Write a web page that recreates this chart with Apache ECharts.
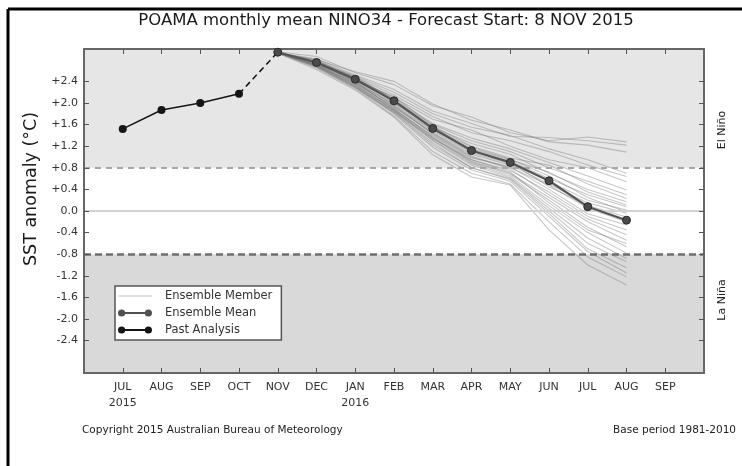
<!DOCTYPE html>
<html>
<head>
<meta charset="utf-8">
<script src="https://cdn.jsdelivr.net/npm/echarts@6/dist/echarts.min.js"></script>
<style>
html,body{margin:0;padding:0;background:#fff;}
#chart{width:742px;height:466px;}
</style>
</head>
<body>
<div id="chart"></div>
<script>
// ---- data ----
const months = ['2015-07','2015-08','2015-09','2015-10','2015-11','2015-12','2016-01','2016-02','2016-03','2016-04','2016-05','2016-06','2016-07','2016-08','2016-09'];
const monthTickLabels = ['JUL\n2015','AUG','SEP','OCT','NOV','DEC','JAN\n2016','FEB','MAR','APR','MAY','JUN','JUL','AUG','SEP'];
const yTickValues = [-2.4,-2.0,-1.6,-1.2,-0.8,-0.4,0.0,0.4,0.8,1.2,1.6,2.0,2.4];
const pastMonths = ['2015-07','2015-08','2015-09','2015-10'];
const pastValues = [1.52, 1.87, 2.00, 2.17];
const forecastMonths = ['2015-11','2015-12','2016-01','2016-02','2016-03','2016-04','2016-05','2016-06','2016-07','2016-08'];
const meanValues = [2.94, 2.75, 2.44, 2.04, 1.53, 1.12, 0.90, 0.56, 0.08, -0.17];
const ensembleMembers = [
  [2.95, 2.86, 2.56, 2.34, 1.95, 1.74, 1.45, 1.30, 1.37, 1.28],
  [2.93, 2.82, 2.52, 2.25, 1.85, 1.62, 1.38, 1.36, 1.30, 1.22],
  [2.92, 2.80, 2.58, 2.40, 1.98, 1.68, 1.50, 1.28, 1.22, 1.09],
  [2.94, 2.78, 2.50, 2.20, 1.80, 1.55, 1.40, 1.15, 0.95, 0.70],
  [2.93, 2.76, 2.48, 2.15, 1.75, 1.45, 1.30, 1.10, 0.85, 0.64],
  [2.92, 2.80, 2.45, 2.10, 1.70, 1.50, 1.20, 0.95, 0.80, 0.54],
  [2.93, 2.75, 2.46, 2.08, 1.62, 1.35, 1.15, 0.90, 0.65, 0.39],
  [2.94, 2.72, 2.42, 2.05, 1.60, 1.30, 1.10, 0.80, 0.55, 0.30],
  [2.92, 2.78, 2.40, 2.12, 1.58, 1.20, 0.98, 0.85, 0.50, 0.23],
  [2.93, 2.74, 2.44, 2.00, 1.55, 1.25, 1.05, 0.70, 0.40, 0.17],
  [2.93, 2.70, 2.38, 1.98, 1.50, 1.15, 0.95, 0.72, 0.35, 0.11],
  [2.92, 2.76, 2.47, 2.02, 1.52, 1.10, 0.92, 0.60, 0.30, 0.08],
  [2.94, 2.73, 2.41, 1.95, 1.48, 1.08, 0.88, 0.55, 0.20, 0.02],
  [2.93, 2.71, 2.36, 1.92, 1.45, 1.05, 0.85, 0.50, 0.15, -0.04],
  [2.92, 2.77, 2.49, 2.06, 1.56, 1.12, 0.90, 0.45, 0.10, -0.11],
  [2.93, 2.72, 2.43, 1.96, 1.42, 1.00, 0.80, 0.48, 0.05, -0.20],
  [2.94, 2.69, 2.34, 1.88, 1.40, 0.98, 0.82, 0.40, -0.05, -0.26],
  [2.93, 2.74, 2.39, 1.90, 1.38, 0.95, 0.75, 0.35, -0.10, -0.35],
  [2.92, 2.70, 2.37, 1.93, 1.44, 1.02, 0.78, 0.30, -0.15, -0.44],
  [2.93, 2.68, 2.32, 1.85, 1.35, 0.92, 0.70, 0.25, -0.20, -0.54],
  [2.94, 2.73, 2.40, 1.89, 1.36, 0.90, 0.68, 0.20, -0.30, -0.66],
  [2.93, 2.67, 2.30, 1.84, 1.32, 0.88, 0.65, 0.10, -0.40, -0.78],
  [2.92, 2.71, 2.35, 1.86, 1.30, 0.85, 0.62, 0.05, -0.50, -0.88],
  [2.93, 2.66, 2.28, 1.82, 1.22, 0.80, 0.60, 0.00, -0.60, -0.94],
  [2.94, 2.69, 2.31, 1.80, 1.18, 0.76, 0.55, -0.10, -0.75, -1.15],
  [2.93, 2.65, 2.27, 1.76, 1.10, 0.70, 0.50, -0.20, -0.85, -1.22],
  [2.92, 2.62, 2.24, 1.74, 1.04, 0.63, 0.48, -0.35, -1.00, -1.37],
  [2.93, 2.70, 2.33, 1.87, 1.34, 0.95, 0.72, 0.15, -0.35, -0.60],
  [2.94, 2.75, 2.45, 2.03, 1.54, 1.18, 0.96, 0.65, 0.25, -0.02],
  [2.93, 2.68, 2.29, 1.83, 1.26, 0.80, 0.58, -0.05, -0.70, -1.05]
];
const elNinoThreshold = 0.8;
const laNinaThreshold = -0.8;

// ---- helpers ----
const xPos = m => months.indexOf(m) + 1;
const pairs = (ms, vs) => ms.map((m, i) => [xPos(m), vs[i]]);
const FONT = 'DejaVu Sans';

const memberSeries = ensembleMembers.map(vals => ({
  name: 'Ensemble Member',
  type: 'line',
  data: pairs(forecastMonths, vals),
  symbol: 'none',
  silent: true,
  z: 2,
  lineStyle: { color: '#7a7a7a', width: 1.1, opacity: 0.42 },
  itemStyle: { color: '#bdbdbd' },
  emphasis: { disabled: true }
}));

const iconLine = 'path://M0,0M34,8M0,3.5h34v1h-34z';
const iconDots = 'path://M0,4A3.6,3.6 0 1 1 7.2,4A3.6,3.6 0 1 1 0,4ZM26.8,4A3.6,3.6 0 1 1 34,4A3.6,3.6 0 1 1 26.8,4ZM3.6,3.1H30.4V4.9H3.6Z';

const option = {
  animation: false,
  backgroundColor: '#fff',
  title: {
    text: 'POAMA monthly mean NINO34 - Forecast Start: 8 NOV 2015',
    left: 386, top: 12, padding: 0, textAlign: 'center',
    textStyle: { fontFamily: FONT, fontSize: 16.5, fontWeight: 'normal', color: '#1a1a1a' }
  },
  grid: { left: 84, top: 49, width: 620, height: 324, show: true, backgroundColor: '#fff', borderWidth: 0 },
  legend: {
    orient: 'vertical', left: 115, top: 286,
    padding: [4, 9, 4, 3], itemGap: 5, itemWidth: 34, itemHeight: 8,
    backgroundColor: '#fff', borderColor: '#555', borderWidth: 1.5,
    textStyle: { fontFamily: FONT, fontSize: 11.5, color: '#333', padding: [0, 0, 0, 8] },
    selectedMode: false,
    data: [
      { name: 'Ensemble Member', icon: iconLine, itemStyle: { color: '#c4c4c4', borderWidth: 0 } },
      { name: 'Ensemble Mean', icon: iconDots, itemStyle: { color: '#505050', borderWidth: 0 } },
      { name: 'Past Analysis', icon: iconDots, itemStyle: { color: '#151515', borderWidth: 0 } }
    ]
  },
  xAxis: [{
    type: 'value', min: 0, max: 16, position: 'bottom', z: 5,
    splitLine: { show: false },
    axisLine: { show: true, onZero: false, lineStyle: { color: '#666', width: 2 } },
    axisTick: { show: true, inside: true, length: 5, lineStyle: { color: '#555', width: 1 }, customValues: months.map(m => xPos(m)) },
    axisLabel: {
      customValues: months.map(m => xPos(m)),
      formatter: v => monthTickLabels[Math.round(v) - 1] || '',
      fontFamily: FONT, fontSize: 11, color: '#333', margin: 6, lineHeight: 16
    }
  }, {
    type: 'value', min: 0, max: 16, position: 'top', z: 5,
    splitLine: { show: false },
    axisLine: { show: true, onZero: false, lineStyle: { color: '#666', width: 2 } },
    axisTick: { show: true, inside: true, length: 5, lineStyle: { color: '#555', width: 1 }, customValues: months.map(m => xPos(m)) },
    axisLabel: { show: false }
  }],
  yAxis: [{
    type: 'value', min: -3, max: 3, position: 'left', z: 5,
    name: 'SST anomaly (°C)', nameLocation: 'middle', nameGap: 42,
    nameTextStyle: { fontFamily: FONT, fontSize: 17.5, color: '#1a1a1a', padding: [0, 0, 0, 44] },
    splitLine: { show: false },
    axisLine: { show: true, onZero: false, lineStyle: { color: '#666', width: 2 } },
    axisTick: { show: true, inside: true, length: 5, lineStyle: { color: '#555', width: 1 }, customValues: yTickValues },
    axisLabel: {
      customValues: yTickValues,
      formatter: v => (v > 0.001 ? '+' : '') + (Math.abs(v) < 0.001 ? '0.0' : v.toFixed(1)),
      fontFamily: FONT, fontSize: 11, color: '#333', margin: 6
    }
  }, {
    type: 'value', min: -3, max: 3, position: 'right', z: 5,
    splitLine: { show: false },
    axisLine: { show: true, onZero: false, lineStyle: { color: '#666', width: 2 } },
    axisTick: { show: true, inside: true, length: 5, lineStyle: { color: '#555', width: 1 }, customValues: yTickValues },
    axisLabel: { show: false }
  }],
  series: [
    {
      type: 'line', data: [], silent: true, z: 1,
      markArea: {
        silent: true,
        itemStyle: { borderWidth: 0 },
        data: [
          [{ yAxis: elNinoThreshold, itemStyle: { color: '#e6e6e6' } }, { yAxis: 3 }],
          [{ yAxis: -3, itemStyle: { color: '#d9d9d9' } }, { yAxis: laNinaThreshold }]
        ]
      },
      markLine: {
        silent: true, symbol: 'none', label: { show: false },
        data: [{ yAxis: 0, lineStyle: { color: '#d2d2d2', width: 2, type: 'solid' } }]
      }
    },
    ...memberSeries,
    {
      type: 'line', data: [], silent: true, z: 3,
      markLine: {
        silent: true, symbol: 'none', label: { show: false },
        data: [
          { yAxis: elNinoThreshold, lineStyle: { color: '#a6a6a6', width: 2, type: [6, 5] } },
          { yAxis: laNinaThreshold, lineStyle: { color: '#6e6e6e', width: 2.5, type: [7, 4] } }
        ]
      }
    },
    {
      type: 'line', silent: true, z: 4,
      data: [pairs(pastMonths, pastValues)[pastValues.length - 1], pairs(forecastMonths, meanValues)[0]],
      symbol: 'none',
      lineStyle: { color: '#111', width: 1.5, type: [6, 4] }
    },
    {
      name: 'Ensemble Mean', type: 'line', z: 6,
      data: pairs(forecastMonths, meanValues),
      symbol: 'circle', symbolSize: 8,
      lineStyle: { color: '#555', width: 2.2 },
      itemStyle: { color: '#4a4a4a', borderColor: '#2a2a2a', borderWidth: 1 }
    },
    {
      name: 'Past Analysis', type: 'line', z: 6,
      data: pairs(pastMonths, pastValues),
      symbol: 'circle', symbolSize: 8,
      lineStyle: { color: '#151515', width: 1.5 },
      itemStyle: { color: '#151515' }
    }
  ],
  graphic: [
    { type: 'line', shape: { x1: 8, y1: 9, x2: 742, y2: 9 }, style: { stroke: '#000', lineWidth: 3 }, silent: true },
    { type: 'line', shape: { x1: 8, y1: 9, x2: 8, y2: 466 }, style: { stroke: '#000', lineWidth: 3 }, silent: true },
    { type: 'text', x: 722, y: 130, rotation: Math.PI / 2, silent: true,
      style: { text: 'El Niño', font: '11px "DejaVu Sans"', fill: '#222', align: 'center', verticalAlign: 'middle' } },
    { type: 'text', x: 722, y: 300, rotation: Math.PI / 2, silent: true,
      style: { text: 'La Niña', font: '11px "DejaVu Sans"', fill: '#222', align: 'center', verticalAlign: 'middle' } },
    { type: 'text', x: 82, y: 430, silent: true,
      style: { text: 'Copyright 2015 Australian Bureau of Meteorology', font: '10.5px "DejaVu Sans"', fill: '#222', align: 'left', verticalAlign: 'middle' } },
    { type: 'text', x: 736, y: 430, silent: true,
      style: { text: 'Base period 1981-2010', font: '10.5px "DejaVu Sans"', fill: '#222', align: 'right', verticalAlign: 'middle' } }
  ]
};

const chart = echarts.init(document.getElementById('chart'), null, { renderer: 'canvas' });
chart.setOption(option);
</script>
</body>
</html>
